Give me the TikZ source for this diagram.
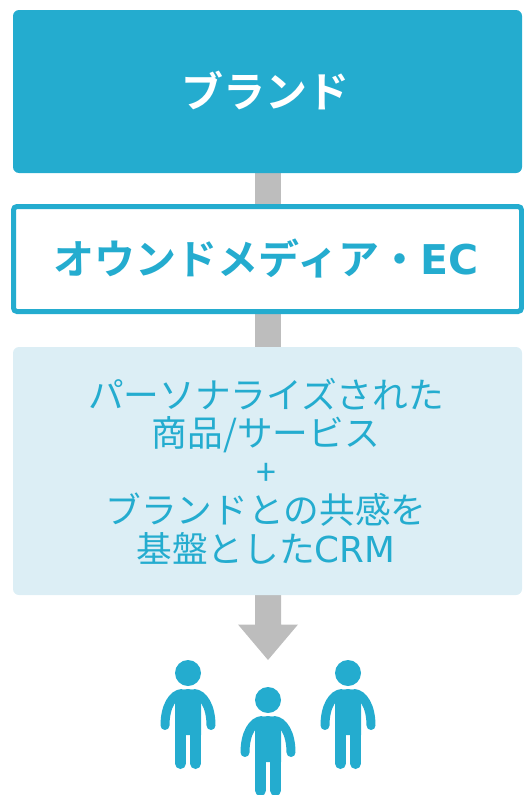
\documentclass[tikz,border=0pt]{standalone}
\usepackage{fontspec}
\newfontfamily\jpf{Noto Sans CJK JP}
\newfontfamily\jpb{Noto Sans CJK JP Bold}
\newfontfamily\latf{DejaVu Sans}
\definecolor{cy}{HTML}{24ACCF}
\definecolor{pale}{HTML}{DCEEF5}
\definecolor{gy}{HTML}{BDBDBD}
\tikzset{
 shaft/.style={fill=gy,draw=none},
 fillbox/.style={rounded corners=6pt,draw=none},
 person/.pic={
  \fill[cy] (0,0) circle (13);
  \fill[cy] (-13,28) .. controls (-10,19) and (-6,16) .. (0,16) .. controls (6,16) and (10,19) .. (13,28) -- (13,62) -- (-13,62) -- cycle;
  \draw[cy,line width=10.8pt,line cap=round] (-7.6,55) -- (-7.6,90.6);
  \draw[cy,line width=10.8pt,line cap=round] (7.6,55) -- (7.6,90.6);
  \draw[cy,line width=9pt,line cap=round] (-6,20.5) .. controls (-15,21) and (-23,33) .. (-23,52.5);
  \draw[cy,line width=9pt,line cap=round] (6,20.5) .. controls (15,21) and (23,33) .. (23,52.5);
 }
}
\begin{document}
\begin{tikzpicture}[x=1pt,y=-1pt]
\useasboundingbox (0,0) rectangle (524,795);
\fill[shaft] (255,173) rectangle (281,204);
\fill[shaft] (255,314) rectangle (281,347);
\fill[shaft] (255,595) -- (281,595) -- (281,624.5) -- (298,624.5) -- (268,660) -- (238,624.5) -- (255,624.5) -- cycle;
\node[fill=cy,fillbox,minimum width=509pt,minimum height=163pt,inner sep=0pt] (brand) at (267.5,91.5) {};
\node[text=white,font=\jpb\fontsize{42}{42}\selectfont,inner sep=0pt] (brandt) at (265,90) {ブランド};
\node[draw=cy,line width=5pt,fill=white,rounded corners=3.5pt,minimum width=508pt,minimum height=105pt,inner sep=0pt] (media) at (267.5,259) {};
\node[text=cy,inner sep=0pt] (mediat) at (266,258) {\jpb\fontsize{41}{41}\selectfont オウンドメディア・{\latf\bfseries EC}};
\node[fill=pale,fillbox,minimum width=509pt,minimum height=248pt,inner sep=0pt] (crm) at (267.5,471) {};
\node[text=cy,inner sep=0pt,align=center,font=\jpf\fontsize{35.7}{38.6}\selectfont] (crmt) at (266,471) {パーソナライズされた\\商品/サービス\\+\\ブランドとの共感を\\基盤とした{\latf CRM}};
\pic at (188,673) {person};
\pic at (268,700) {person};
\pic at (348,673) {person};
\end{tikzpicture}
\end{document}
